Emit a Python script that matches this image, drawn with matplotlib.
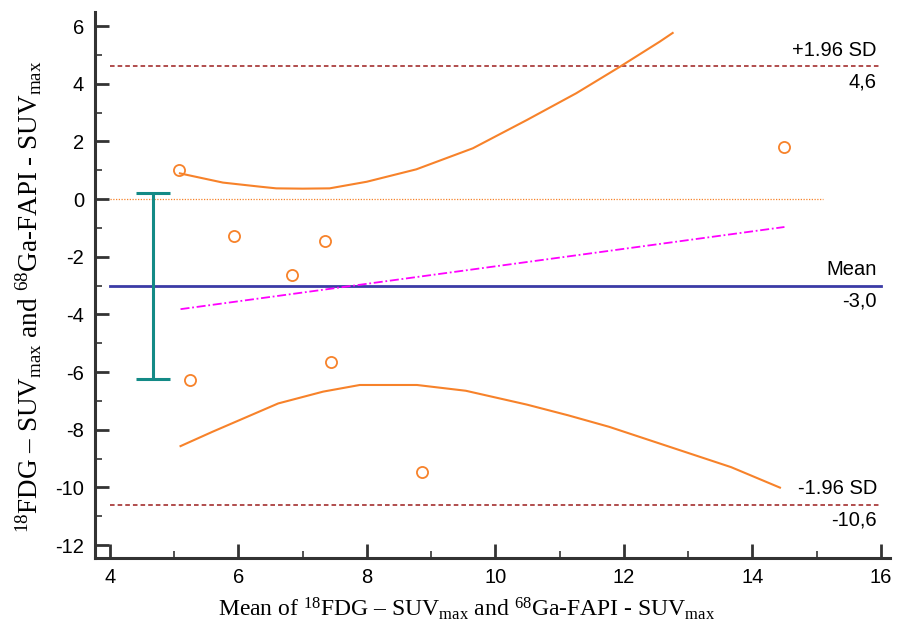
import numpy as np
import matplotlib
matplotlib.use("Agg")
import matplotlib.pyplot as plt
from matplotlib.ticker import MultipleLocator

# Bland-Altman data
mean_vals = [5.08, 5.93, 6.84, 7.35, 5.25, 7.44, 8.86, 14.49]
diff_vals = [1.0, -1.28, -2.64, -1.46, -6.28, -5.66, -9.48, 1.8]

mean_diff = -3.0
upper_loa = 4.6
lower_loa = -10.6

# regression line of differences
reg_x = [5.1, 14.5]
reg_y = [-3.82, -0.97]

# confidence band curves
upper_curve_x = [5.09, 5.76, 6.33, 6.59, 7.0, 7.42, 8.0, 8.77, 9.65, 10.49, 11.26, 11.94, 12.56, 12.76]
upper_curve_y = [0.89, 0.57, 0.43, 0.37, 0.36, 0.37, 0.60, 1.03, 1.76, 2.74, 3.67, 4.59, 5.46, 5.76]
lower_curve_x = [5.10, 5.60, 6.62, 7.32, 7.89, 8.78, 9.54, 10.49, 11.13, 11.77, 12.72, 13.67, 14.43]
lower_curve_y = [-8.57, -8.07, -7.09, -6.68, -6.45, -6.45, -6.65, -7.13, -7.50, -7.90, -8.60, -9.30, -10.01]

# 95% CI of the mean difference
ci_x = 4.67
ci_low = -6.25
ci_high = 0.2

orange = "#f7822a"
sans = ["Liberation Sans", "DejaVu Sans"]

plt.rcParams["mathtext.fontset"] = "custom"
plt.rcParams["mathtext.rm"] = "Liberation Serif"
plt.rcParams["mathtext.it"] = "Liberation Serif:italic"
plt.rcParams["axes.unicode_minus"] = False

fig = plt.figure(figsize=(8.97, 6.28), dpi=100)
ax = fig.add_axes([0.106, 0.1115, 0.886, 0.87])

ax.set_xlim(3.77, 16.14)
ax.set_ylim(-12.45, 6.5)

# zero line
ax.plot([4, 15.1], [0, 0], color=orange, lw=0.9, ls=(0, (1, 1.2)))

# limits of agreement and mean
ax.plot([4, 16], [upper_loa, upper_loa], color="#9b1c1c", lw=1.1, ls=(0, (3, 2)))
ax.plot([4, 16], [lower_loa, lower_loa], color="#9b1c1c", lw=1.1, ls=(0, (3, 2)))
ax.plot([4, 16], [mean_diff, mean_diff], color="#3b3ba6", lw=2.0)

# regression line
ax.plot(reg_x, reg_y, color="#ff00ff", lw=1.3, ls=(0, (5, 1.5, 1, 1.5)))

# curves
ax.plot(upper_curve_x, upper_curve_y, color=orange, lw=1.5)
ax.plot(lower_curve_x, lower_curve_y, color=orange, lw=1.5)

# CI error bar
ax.errorbar([ci_x], [mean_diff], yerr=[[mean_diff - ci_low], [ci_high - mean_diff]],
            fmt="none", ecolor="#138a86", elinewidth=2.2, capsize=12, capthick=2.2)

# points
ax.plot(mean_vals, diff_vals, "o", mfc="none", mec=orange, ms=8, mew=1.3)

# right side labels
tx = 15.94
fs = 14.5
ax.text(tx, upper_loa + 0.22, "+1.96 SD", ha="right", va="bottom", fontsize=fs, family=sans)
ax.text(tx, upper_loa - 0.22, "4,6", ha="right", va="top", fontsize=fs, family=sans)
ax.text(tx, mean_diff + 0.22, "Mean", ha="right", va="bottom", fontsize=fs, family=sans)
ax.text(tx, mean_diff - 0.22, "-3,0", ha="right", va="top", fontsize=fs, family=sans)
ax.text(tx, lower_loa + 0.22, "-1.96 SD", ha="right", va="bottom", fontsize=fs, family=sans)
ax.text(tx, lower_loa - 0.22, "-10,6", ha="right", va="top", fontsize=fs, family=sans)

# axes styling
for s in ["top", "right"]:
    ax.spines[s].set_visible(False)
for s in ["left", "bottom"]:
    ax.spines[s].set_linewidth(2.2)
    ax.spines[s].set_color("#333333")

ax.xaxis.set_minor_locator(MultipleLocator(1))
ax.yaxis.set_minor_locator(MultipleLocator(1))
ax.set_xticks(range(4, 17, 2))
ax.set_yticks(range(-12, 7, 2))
ax.tick_params(which="major", direction="in", length=10, width=2.0, color="#333333",
               labelsize=14.5)
ax.tick_params(axis="y", which="major", pad=8)
ax.tick_params(axis="x", which="major", pad=7)
ax.tick_params(which="minor", direction="in", length=5, width=1.2, color="#333333")
for lab in ax.get_xticklabels() + ax.get_yticklabels():
    lab.set_family(sans)

ax.set_xlabel(r"Mean of $^{18}$FDG – SUV$_{\mathrm{max}}$ and $^{68}$Ga-FAPI - SUV$_{\mathrm{max}}$",
              fontsize=17, family="Liberation Serif")
ax.set_ylabel(r"$^{18}$FDG – SUV$_{\mathrm{max}}$ and $^{68}$Ga-FAPI - SUV$_{\mathrm{max}}$",
              fontsize=19.5, family="Liberation Serif")
ax.xaxis.set_label_coords(0.467, -0.068)
ax.yaxis.set_label_coords(-0.064, 0.478)

fig.savefig("out.png", dpi=100)
